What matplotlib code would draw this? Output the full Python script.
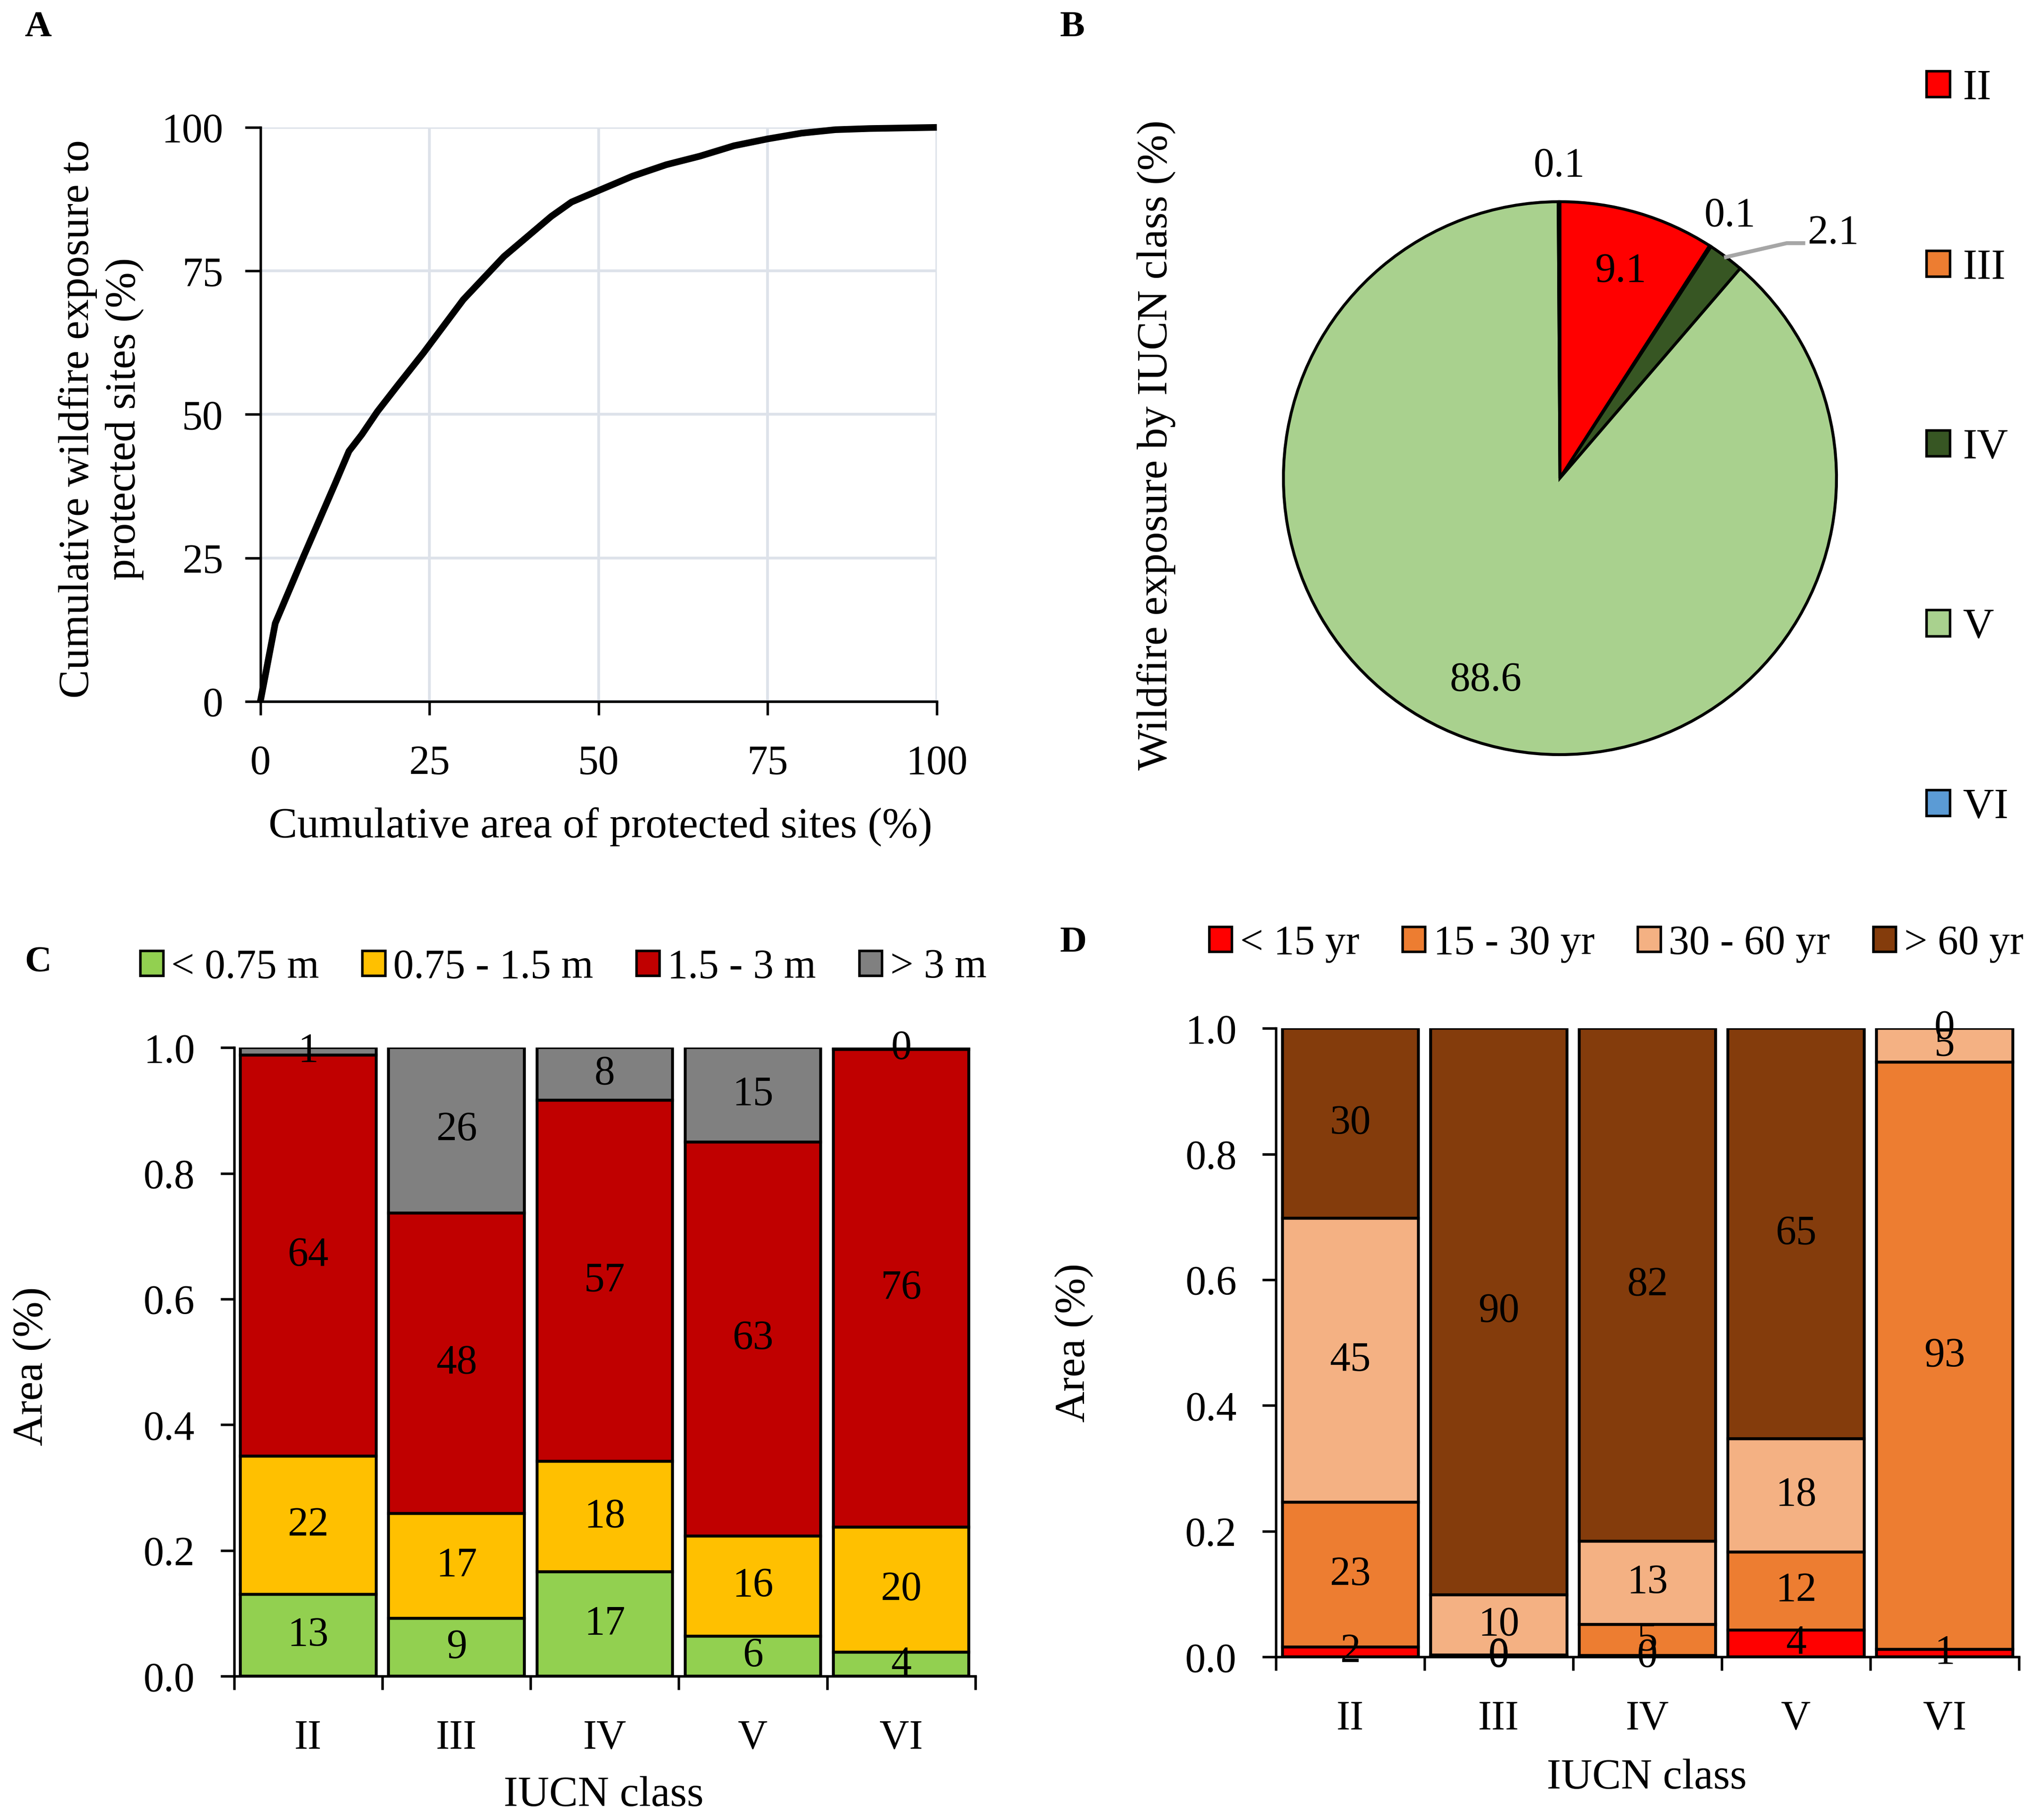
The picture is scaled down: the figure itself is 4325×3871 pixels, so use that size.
import numpy as np
import matplotlib
matplotlib.use('Agg')
import matplotlib.pyplot as plt
from matplotlib.patches import Patch

plt.rcParams['font.family'] = ['Liberation Serif', 'DejaVu Serif']
plt.rcParams['axes.linewidth'] = 1.3

# ---- data ----
# A: cumulative curve
area_cum = [0, 2.2, 6.4, 11, 13.1, 15, 17.3, 20.2, 24.1, 30, 36, 40, 43, 46, 50,
            55, 60, 65, 70, 75, 80, 85, 90, 100]
exposure_cum = [0, 13.6, 25.3, 37.8, 43.6, 46.5, 50.5, 54.9, 60.7, 70, 77.5, 81.5,
                84.5, 87, 89, 91.5, 93.5, 95, 96.8, 98, 99, 99.6, 99.8, 100]

# B: exposure share by IUCN class
iucn = ['II', 'III', 'IV', 'V', 'VI']
pie_share = [9.1, 0.1, 2.1, 88.6, 0.1]
pie_colors = ['#FF0000', '#ED7D31', '#375623', '#A9D18E', '#5B9BD5']

# C: flame length classes (fraction of area)
flame_classes = ['< 0.75 m', '0.75 - 1.5 m', '1.5 - 3 m', '> 3 m']
flame_colors = ['#92D050', '#FFC000', '#C00000', '#808080']
flame_lt075 = [0.130, 0.092, 0.166, 0.064, 0.038]
flame_075_15 = [0.220, 0.167, 0.176, 0.159, 0.199]
flame_15_3 = [0.638, 0.478, 0.574, 0.627, 0.760]
flame_gt3 = [0.012, 0.263, 0.084, 0.150, 0.003]

# D: fire return interval classes (fraction of area)
fri_classes = ['< 15 yr', '15 - 30 yr', '30 - 60 yr', '> 60 yr']
fri_colors = ['#FF0000', '#ED7D31', '#F4B183', '#843C0C']
fri_lt15 = [0.016, 0.001, 0.002, 0.043, 0.012]
fri_15_30 = [0.230, 0.002, 0.050, 0.124, 0.934]
fri_30_60 = [0.452, 0.096, 0.132, 0.180, 0.054]
fri_gt60 = [0.302, 0.901, 0.816, 0.653, 0.000]

FS = 21
fig = plt.figure(figsize=(4325 / 300, 3871 / 300), dpi=300)

# ---- A ----
axA = fig.add_axes([0.1280, 0.6146, 0.3326, 0.3154])
axA.plot(area_cum, exposure_cum, color='black', lw=3.4, clip_on=False, zorder=3,
         solid_capstyle='butt')
axA.set_xlim(0, 100)
axA.set_ylim(0, 100)
axA.set_xticks([0, 25, 50, 75, 100])
axA.set_yticks([0, 25, 50, 75, 100])
axA.grid(True, color='#dde2ea', lw=1.4)
axA.set_axisbelow(True)
for s in ['top', 'right']:
    axA.spines[s].set_visible(False)
axA.tick_params(axis='x', direction='out', length=7, width=1.3, pad=15, labelsize=FS)
axA.tick_params(axis='y', direction='out', length=8, width=1.3, pad=11, labelsize=FS)
fig.text(0.2952, 0.5459, 'Cumulative area of protected sites (%)', ha='center',
         va='center', fontsize=22)
fig.text(0.0497, 0.7698, 'Cumulative wildfire exposure to\nprotected sites (%)',
         ha='center', va='center', rotation=90, fontsize=22, multialignment='center',
         linespacing=1.25)
fig.text(0.012, 0.9848, 'A', fontsize=19, fontweight='bold', ha='left', va='center')

# ---- B ----
cx, cy, R = 3317 / 4325, 1 - 1017 / 3871, 588
half = 1.3
w_px = 2 * half * R
axB = fig.add_axes([cx - w_px / 2 / 4325, cy - w_px / 2 / 3871, w_px / 4325, w_px / 3871])
wedges, _ = axB.pie(pie_share, colors=pie_colors, startangle=90, counterclock=False,
                    radius=1, wedgeprops=dict(edgecolor='black', linewidth=1.5))
axB.set_xlim(-half, half)
axB.set_ylim(-half, half)
axB.set_aspect('equal')
axB.axis('off')
for wdg, val in zip(wedges, pie_share):
    ang = np.deg2rad((wdg.theta1 + wdg.theta2) / 2)
    txt = f'{val:.1f}'
    if val >= 5:
        axB.text(0.78 * np.cos(ang), 0.78 * np.sin(ang), txt, ha='center', va='center',
                 fontsize=FS)
    elif val >= 1:
        p0 = (np.cos(ang), np.sin(ang))
        axB.plot([p0[0], 0.82, 0.88], [p0[1], 0.85, 0.85], color='#A6A6A6', lw=2,
                 clip_on=False)
        axB.text(0.895, 0.885, txt, ha='left', va='center', fontsize=FS)
    else:
        axB.text(1.13 * np.cos(ang), 1.13 * np.sin(ang), txt, ha='center', va='center',
                 fontsize=FS)
fig.text(0.5683, 0.7554, 'Wildfire exposure by IUCN class (%)', rotation=90,
         ha='center', va='center', fontsize=22)
fig.text(0.521, 0.9848, 'B', fontsize=19, fontweight='bold', ha='left', va='center')
pie_handles = [Patch(facecolor=c, edgecolor='black', lw=1.3) for c in pie_colors]
fig.legend(pie_handles, iucn, loc='upper left', bbox_to_anchor=(0.947, 0.962),
           frameon=False, fontsize=22, labelspacing=3.27, handlelength=0.55,
           handleheight=0.55, handletextpad=0.3, borderpad=0, borderaxespad=0)


# ---- stacked bars ----
def stacked(ax, series, colors):
    x = np.arange(len(iucn)) + 0.5
    bottom = np.zeros(len(iucn))
    for vals, col in zip(series, colors):
        vals = np.array(vals)
        ax.bar(x, vals, width=0.915, bottom=bottom, color=col, edgecolor='black',
               linewidth=1.5)
        for xi, b, v in zip(x, bottom, vals):
            ax.text(xi, b + v / 2, f'{v * 100:.0f}', ha='center', va='center',
                    fontsize=FS)
        bottom = bottom + vals
    ax.set_xlim(0, len(iucn))
    ax.set_ylim(0, 1.0)
    ax.set_yticks(np.arange(0, 1.01, 0.2))
    ax.set_yticklabels([f'{t:.1f}' for t in np.arange(0, 1.01, 0.2)])
    ax.set_xticks(np.arange(len(iucn) + 1))
    ax.set_xticklabels([])
    ax.set_xticks(x, minor=True)
    ax.set_xticklabels(iucn, minor=True)
    ax.tick_params(axis='x', which='major', direction='out', length=7, width=1.3)
    ax.tick_params(axis='x', which='minor', length=0, pad=22, labelsize=FS)
    ax.tick_params(axis='y', direction='out', length=7, width=1.3, pad=13, labelsize=FS)
    for s in ['top', 'right']:
        ax.spines[s].set_visible(False)


leg_kw = dict(loc='center', ncol=4, frameon=False, fontsize=21, handlelength=0.55,
              handleheight=0.55, handletextpad=0.2, columnspacing=1.05, borderpad=0)

axC = fig.add_axes([0.1151, 0.0790, 0.3644, 0.3454])
stacked(axC, [flame_lt075, flame_075_15, flame_15_3, flame_gt3], flame_colors)
fig.text(0.2968, 0.0136, 'IUCN class', ha='center', va='center', fontsize=22)
fig.text(0.0156, 0.2494, 'Area (%)', rotation=90, ha='center', va='center', fontsize=22)
fig.text(0.012, 0.471, 'C', fontsize=19, fontweight='bold', ha='left', va='center')
fig.legend([Patch(facecolor=c, edgecolor='black', lw=1.3) for c in flame_colors],
           flame_classes, bbox_to_anchor=(0.277, 0.4684), **leg_kw)

axD = fig.add_axes([0.6273, 0.0896, 0.3653, 0.3454])
stacked(axD, [fri_lt15, fri_15_30, fri_30_60, fri_gt60], fri_colors)
fig.text(0.8095, 0.0230, 'IUCN class', ha='center', va='center', fontsize=22)
fig.text(0.528, 0.2623, 'Area (%)', rotation=90, ha='center', va='center', fontsize=22)
fig.text(0.521, 0.482, 'D', fontsize=19, fontweight='bold', ha='left', va='center')
fig.legend([Patch(facecolor=c, edgecolor='black', lw=1.3) for c in fri_colors],
           fri_classes, bbox_to_anchor=(0.7946, 0.4815), **leg_kw)

fig.savefig('out.png', dpi=300)
